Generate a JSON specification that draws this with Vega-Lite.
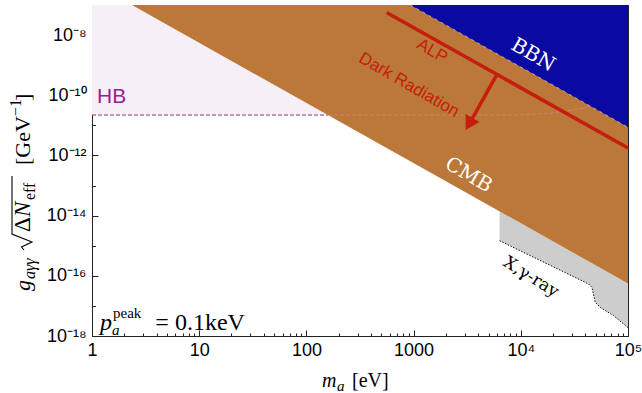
{
  "$schema": "https://vega.github.io/schema/vega-lite/v6.json",
  "width": 536,
  "height": 331,
  "autosize": {"type": "none"},
  "padding": {"left": 92, "top": 5, "right": 14, "bottom": 57},
  "background": "white",
  "config": {
    "view": {"stroke": null},
    "axis": {"grid": false, "domainColor": "#222", "tickColor": "#222", "labelColor": "#000", "labelFont": "Liberation Sans", "labelFontSize": 18, "zindex": 1, "labelFlush": false, "labelOverlap": false, "tickWidth": 1, "domainWidth": 1}
  },
  "resolve": {"axis": {"x": "independent", "y": "independent"}},
  "layer": [
    {
      "data": {"values": [{"x": 1, "y": 2.2e-11, "y2": 1e-7}, {"x": 100000, "y": 2.2e-11, "y2": 1e-7}]},
      "mark": {"type": "area", "color": "#f7eff8"},
      "encoding": {
        "x": {"field": "x", "type": "quantitative", "scale": {"type": "log", "domain": [1, 100000], "nice": false},
          "axis": {"orient": "bottom", "title": null, "values": [1,2,3,4,5,6,7,8,9,10,20,30,40,50,60,70,80,90,100,200,300,400,500,600,700,800,900,1000,2000,3000,4000,5000,6000,7000,8000,9000,10000,20000,30000,40000,50000,60000,70000,80000,90000,100000],
            "labelExpr": "datum.value == 1 ? '1' : datum.value == 10 ? '10' : datum.value == 100 ? '100' : datum.value == 1000 ? '1000' : datum.value == 10000 ? '10⁴' : datum.value == 100000 ? '10⁵' : ''",
            "tickSize": {"condition": {"test": "indexof([1,10,100,1000,10000,100000], datum.value) >= 0", "value": -6}, "value": -3},
            "labelPadding": 11}},
        "y": {"field": "y", "type": "quantitative", "scale": {"type": "log", "domain": [1e-18, 1e-7], "nice": false},
          "axis": {"orient": "left", "title": null, "values": [1e-18,1e-17,1e-16,1e-15,1e-14,1e-13,1e-12,1e-11,1e-10,1e-9,1e-8,1e-7],
            "labelExpr": "datum.value == 1e-8 ? '10⁻⁸' : datum.value == 1e-10 ? '10⁻¹⁰' : datum.value == 1e-12 ? '10⁻¹²' : datum.value == 1e-14 ? '10⁻¹⁴' : datum.value == 1e-16 ? '10⁻¹⁶' : datum.value == 1e-18 ? '10⁻¹⁸' : ''",
            "tickSize": {"condition": {"test": "indexof([1e-18,1e-16,1e-14,1e-12,1e-10,1e-8], datum.value) >= 0", "value": -6}, "value": -3.5},
            "labelPadding": 12}},
        "y2": {"field": "y2"}
      }
    },
    {
      "data": {"values": [{"x": 1, "y": 2.2e-11}, {"x": 159, "y": 2.2e-11}]},
      "mark": {"type": "line", "stroke": "#9c2a94", "strokeWidth": 1, "strokeDash": [4, 2]},
      "encoding": {
        "x": {"field": "x", "type": "quantitative", "scale": {"type": "log", "domain": [1, 100000], "nice": false}, "axis": null},
        "y": {"field": "y", "type": "quantitative", "scale": {"type": "log", "domain": [1e-18, 1e-7], "nice": false}, "axis": null}
      }
    },
    {
      "data": {"values": [
        {"x": 6340, "y": 1.47e-15, "y2": 1.386e-14},
        {"x": 42900, "y": 5.35e-17, "y2": 3.03e-16},
        {"x": 46100, "y": 4.12e-17, "y2": 2.62e-16},
        {"x": 49500, "y": 1.31e-17, "y2": 2.27e-16},
        {"x": 55200, "y": 8.9e-18, "y2": 1.83e-16},
        {"x": 73400, "y": 4.72e-18, "y2": 1.03e-16},
        {"x": 100000, "y": 1.9e-18, "y2": 5.57e-17}
      ]},
      "mark": {"type": "area", "color": "#cdcdcd"},
      "encoding": {
        "x": {"field": "x", "type": "quantitative", "scale": {"type": "log", "domain": [1, 100000], "nice": false}, "axis": null},
        "y": {"field": "y", "type": "quantitative", "scale": {"type": "log", "domain": [1e-18, 1e-7], "nice": false}, "axis": null},
        "y2": {"field": "y2"}
      }
    },
    {
      "data": {"values": [
        {"x": 6340, "y": 1.47e-15},
        {"x": 42900, "y": 5.35e-17},
        {"x": 46100, "y": 4.12e-17},
        {"x": 49500, "y": 1.31e-17},
        {"x": 55200, "y": 8.9e-18},
        {"x": 73400, "y": 4.72e-18},
        {"x": 100000, "y": 1.9e-18}
      ]},
      "mark": {"type": "line", "stroke": "#111", "strokeWidth": 1, "strokeDash": [1.5, 1.5]},
      "encoding": {
        "x": {"field": "x", "type": "quantitative", "scale": {"type": "log", "domain": [1, 100000], "nice": false}, "axis": null},
        "y": {"field": "y", "type": "quantitative", "scale": {"type": "log", "domain": [1e-18, 1e-7], "nice": false}, "axis": null}
      }
    },
    {
      "data": {"values": [{"x": 2.36, "y": 1e-7, "y2": 1e-7}, {"x": 100000, "y": 5.57e-17, "y2": 1e-7}]},
      "mark": {"type": "area", "color": "#bb7839"},
      "encoding": {
        "x": {"field": "x", "type": "quantitative", "scale": {"type": "log", "domain": [1, 100000], "nice": false},
          "axis": {"orient": "top", "title": null, "labels": false, "values": [1,2,3,4,5,6,7,8,9,10,20,30,40,50,60,70,80,90,100,200,300,400,500,600,700,800,900,1000,2000,3000,4000,5000,6000,7000,8000,9000,10000,20000,30000,40000,50000,60000,70000,80000,90000,100000],
            "tickSize": {"condition": {"test": "indexof([1,10,100,1000,10000,100000], datum.value) >= 0", "value": -6}, "value": -3}}},
        "y": {"field": "y", "type": "quantitative", "scale": {"type": "log", "domain": [1e-18, 1e-7], "nice": false},
          "axis": {"orient": "right", "title": null, "labels": false, "values": [1e-18,1e-17,1e-16,1e-15,1e-14,1e-13,1e-12,1e-11,1e-10,1e-9,1e-8,1e-7],
            "tickSize": {"condition": {"test": "indexof([1e-18,1e-16,1e-14,1e-12,1e-10,1e-8], datum.value) >= 0", "value": -6}, "value": -3.5}}},
        "y2": {"field": "y2"}
      }
    },
    {
      "data": {"values": [{"x": 159, "y": 2.2e-11}, {"x": 9300, "y": 2.2e-11}, {"x": 20000, "y": 2.6e-11}, {"x": 36000, "y": 3.6e-11}, {"x": 45000, "y": 4.4e-11}]},
      "mark": {"type": "line", "stroke": "#d48a9c", "strokeWidth": 1, "strokeDash": [4, 2], "opacity": 0.6},
      "encoding": {
        "x": {"field": "x", "type": "quantitative", "scale": {"type": "log", "domain": [1, 100000], "nice": false}, "axis": null},
        "y": {"field": "y", "type": "quantitative", "scale": {"type": "log", "domain": [1e-18, 1e-7], "nice": false}, "axis": null}
      }
    },
    {
      "data": {"values": [{"x": 931, "y": 1e-7, "y2": 1e-7}, {"x": 100000, "y": 8.67e-12, "y2": 1e-7}]},
      "mark": {"type": "area", "color": "#0a0aa2"},
      "encoding": {
        "x": {"field": "x", "type": "quantitative", "scale": {"type": "log", "domain": [1, 100000], "nice": false}, "axis": null},
        "y": {"field": "y", "type": "quantitative", "scale": {"type": "log", "domain": [1e-18, 1e-7], "nice": false}, "axis": null},
        "y2": {"field": "y2"}
      }
    },
    {
      "data": {"values": [{"x": 931, "y": 1e-7}, {"x": 100000, "y": 8.67e-12}]},
      "mark": {"type": "line", "stroke": "white", "strokeWidth": 1, "opacity": 0.5, "strokeDash": [3, 4]},
      "encoding": {
        "x": {"field": "x", "type": "quantitative", "scale": {"type": "log", "domain": [1, 100000], "nice": false}, "axis": null},
        "y": {"field": "y", "type": "quantitative", "scale": {"type": "log", "domain": [1e-18, 1e-7], "nice": false}, "axis": null}
      }
    },
    {
      "data": {"values": [{"x": 560, "y": 5.64e-8}, {"x": 100000, "y": 1.77e-12}]},
      "mark": {"type": "line", "stroke": "#c61e0e", "strokeWidth": 3.5},
      "encoding": {
        "x": {"field": "x", "type": "quantitative", "scale": {"type": "log", "domain": [1, 100000], "nice": false}, "axis": null},
        "y": {"field": "y", "type": "quantitative", "scale": {"type": "log", "domain": [1e-18, 1e-7], "nice": false}, "axis": null}
      }
    },
    {
      "data": {"values": [{"xa": 5998, "ya": 4.92e-10, "xb": 3467, "yb": 1.51e-11}]},
      "mark": {"type": "rule", "stroke": "#c61e0e", "strokeWidth": 3.5},
      "encoding": {
        "x": {"field": "xa", "type": "quantitative", "scale": {"type": "log", "domain": [1, 100000], "nice": false}, "axis": null},
        "y": {"field": "ya", "type": "quantitative", "scale": {"type": "log", "domain": [1e-18, 1e-7], "nice": false}, "axis": null},
        "x2": {"field": "xb"},
        "y2": {"field": "yb"}
      }
    },
    {
      "data": {"values": [{"x": 3294, "y": 1.11e-11}]},
      "mark": {"type": "point", "shape": "triangle-down", "size": 256, "angle": 30, "filled": true, "color": "#c61e0e", "opacity": 1},
      "encoding": {
        "x": {"field": "x", "type": "quantitative", "scale": {"type": "log", "domain": [1, 100000], "nice": false}, "axis": null},
        "y": {"field": "y", "type": "quantitative", "scale": {"type": "log", "domain": [1e-18, 1e-7], "nice": false}, "axis": null}
      }
    },
    {
      "data": {"values": [{"t": "HB", "x": 1.113, "y": 5.53e-11}]},
      "mark": {"type": "text", "font": "Liberation Sans", "fontSize": 21, "color": "#9b2090", "align": "left", "baseline": "alphabetic"},
      "encoding": {
        "x": {"field": "x", "type": "quantitative", "scale": {"type": "log", "domain": [1, 100000], "nice": false}, "axis": null},
        "y": {"field": "y", "type": "quantitative", "scale": {"type": "log", "domain": [1e-18, 1e-7], "nice": false}, "axis": null},
        "text": {"field": "t"}
      }
    },
    {
      "data": {"values": [{"t": "BBN", "x": 13000, "y": 2.18e-9}, {"t": "CMB", "x": 3252, "y": 2.24e-13}]},
      "mark": {"type": "text", "font": "DejaVu Serif", "fontSize": 20, "color": "white", "align": "center", "baseline": "middle", "angle": 30},
      "encoding": {
        "x": {"field": "x", "type": "quantitative", "scale": {"type": "log", "domain": [1, 100000], "nice": false}, "axis": null},
        "y": {"field": "y", "type": "quantitative", "scale": {"type": "log", "domain": [1e-18, 1e-7], "nice": false}, "axis": null},
        "text": {"field": "t"}
      }
    },
    {
      "data": {"values": [{"t": "X,γ-ray", "x": 12450, "y": 9.12e-17}]},
      "mark": {"type": "text", "font": "DejaVu Serif", "fontSize": 17, "color": "black", "align": "center", "baseline": "middle", "angle": 32},
      "encoding": {
        "x": {"field": "x", "type": "quantitative", "scale": {"type": "log", "domain": [1, 100000], "nice": false}, "axis": null},
        "y": {"field": "y", "type": "quantitative", "scale": {"type": "log", "domain": [1e-18, 1e-7], "nice": false}, "axis": null},
        "text": {"field": "t"}
      }
    },
    {
      "data": {"values": [{"t": "ALP", "x": 1486, "y": 2.96e-9}, {"t": "Dark Radiation", "x": 906, "y": 2.19e-10}]},
      "mark": {"type": "text", "font": "Liberation Sans", "fontSize": 17, "color": "#c61e0e", "align": "center", "baseline": "middle", "angle": 30},
      "encoding": {
        "x": {"field": "x", "type": "quantitative", "scale": {"type": "log", "domain": [1, 100000], "nice": false}, "axis": null},
        "y": {"field": "y", "type": "quantitative", "scale": {"type": "log", "domain": [1e-18, 1e-7], "nice": false}, "axis": null},
        "text": {"field": "t"}
      }
    },
    {
      "data": {"values": [{"t": "p", "x": 1.187, "y": 1.58e-18}]},
      "mark": {"type": "text", "font": "Liberation Serif", "fontSize": 24, "fontStyle": "italic", "color": "black", "align": "left", "baseline": "alphabetic"},
      "encoding": {
        "x": {"field": "x", "type": "quantitative", "scale": {"type": "log", "domain": [1, 100000], "nice": false}, "axis": null},
        "y": {"field": "y", "type": "quantitative", "scale": {"type": "log", "domain": [1e-18, 1e-7], "nice": false}, "axis": null},
        "text": {"field": "t"}
      }
    },
    {
      "data": {"values": [{"t": "a", "x": 1.537, "y": 1.078e-18}, {"t": "a", "x": 193.0, "y": 1.486e-20}]},
      "mark": {"type": "text", "font": "Liberation Serif", "fontSize": 15, "fontStyle": "italic", "color": "black", "align": "left", "baseline": "alphabetic"},
      "encoding": {
        "x": {"field": "x", "type": "quantitative", "scale": {"type": "log", "domain": [1, 100000], "nice": false}, "axis": null},
        "y": {"field": "y", "type": "quantitative", "scale": {"type": "log", "domain": [1e-18, 1e-7], "nice": false}, "axis": null},
        "text": {"field": "t"}
      }
    },
    {
      "data": {"values": [{"t": "peak", "x": 1.57, "y": 3.96e-18}]},
      "mark": {"type": "text", "font": "Liberation Serif", "fontSize": 15, "color": "black", "align": "left", "baseline": "alphabetic"},
      "encoding": {
        "x": {"field": "x", "type": "quantitative", "scale": {"type": "log", "domain": [1, 100000], "nice": false}, "axis": null},
        "y": {"field": "y", "type": "quantitative", "scale": {"type": "log", "domain": [1e-18, 1e-7], "nice": false}, "axis": null},
        "text": {"field": "t"}
      }
    },
    {
      "data": {"values": [{"t": "= 0.1keV", "x": 3.9, "y": 1.58e-18}]},
      "mark": {"type": "text", "font": "Liberation Serif", "fontSize": 24, "color": "black", "align": "left", "baseline": "alphabetic"},
      "encoding": {
        "x": {"field": "x", "type": "quantitative", "scale": {"type": "log", "domain": [1, 100000], "nice": false}, "axis": null},
        "y": {"field": "y", "type": "quantitative", "scale": {"type": "log", "domain": [1e-18, 1e-7], "nice": false}, "axis": null},
        "text": {"field": "t"}
      }
    },
    {
      "data": {"values": [{"t": "m", "x": 139.8, "y": 2.02e-20}]},
      "mark": {"type": "text", "font": "Liberation Serif", "fontSize": 20, "fontStyle": "italic", "color": "black", "align": "left", "baseline": "alphabetic"},
      "encoding": {
        "x": {"field": "x", "type": "quantitative", "scale": {"type": "log", "domain": [1, 100000], "nice": false}, "axis": null},
        "y": {"field": "y", "type": "quantitative", "scale": {"type": "log", "domain": [1e-18, 1e-7], "nice": false}, "axis": null},
        "text": {"field": "t"}
      }
    },
    {
      "data": {"values": [{"t": "[eV]", "x": 266.4, "y": 2.02e-20}]},
      "mark": {"type": "text", "font": "Liberation Serif", "fontSize": 20, "color": "black", "align": "left", "baseline": "alphabetic"},
      "encoding": {
        "x": {"field": "x", "type": "quantitative", "scale": {"type": "log", "domain": [1, 100000], "nice": false}, "axis": null},
        "y": {"field": "y", "type": "quantitative", "scale": {"type": "log", "domain": [1e-18, 1e-7], "nice": false}, "axis": null},
        "text": {"field": "t"}
      }
    },
    {
      "data": {"values": [{"t": "g", "x": 0.264, "y": 3.13e-17}]},
      "mark": {"type": "text", "font": "Liberation Serif", "fontSize": 22, "fontStyle": "italic", "color": "black", "align": "left", "baseline": "alphabetic", "angle": 270},
      "encoding": {
        "x": {"field": "x", "type": "quantitative", "scale": {"type": "log", "domain": [1, 100000], "nice": false}, "axis": null},
        "y": {"field": "y", "type": "quantitative", "scale": {"type": "log", "domain": [1e-18, 1e-7], "nice": false}, "axis": null},
        "text": {"field": "t"}
      }
    },
    {
      "data": {"values": [{"t": "N", "x": 0.264, "y": 9.0e-15}]},
      "mark": {"type": "text", "font": "Liberation Serif", "fontSize": 23, "fontStyle": "italic", "color": "black", "align": "left", "baseline": "alphabetic", "angle": 270},
      "encoding": {
        "x": {"field": "x", "type": "quantitative", "scale": {"type": "log", "domain": [1, 100000], "nice": false}, "axis": null},
        "y": {"field": "y", "type": "quantitative", "scale": {"type": "log", "domain": [1e-18, 1e-7], "nice": false}, "axis": null},
        "text": {"field": "t"}
      }
    },
    {
      "data": {"values": [{"t": "Δ", "x": 0.264, "y": 2.86e-15}]},
      "mark": {"type": "text", "font": "Liberation Serif", "fontSize": 23, "color": "black", "align": "left", "baseline": "alphabetic", "angle": 270},
      "encoding": {
        "x": {"field": "x", "type": "quantitative", "scale": {"type": "log", "domain": [1, 100000], "nice": false}, "axis": null},
        "y": {"field": "y", "type": "quantitative", "scale": {"type": "log", "domain": [1e-18, 1e-7], "nice": false}, "axis": null},
        "text": {"field": "t"}
      }
    },
    {
      "data": {"values": [{"t": "aγγ", "x": 0.2939, "y": 7.83e-17}]},
      "mark": {"type": "text", "font": "Liberation Serif", "fontSize": 16, "fontStyle": "italic", "color": "black", "align": "left", "baseline": "alphabetic", "angle": 270},
      "encoding": {
        "x": {"field": "x", "type": "quantitative", "scale": {"type": "log", "domain": [1, 100000], "nice": false}, "axis": null},
        "y": {"field": "y", "type": "quantitative", "scale": {"type": "log", "domain": [1e-18, 1e-7], "nice": false}, "axis": null},
        "text": {"field": "t"}
      }
    },
    {
      "data": {"values": [{"t": "[GeV", "x": 0.264, "y": 4.82e-13}, {"t": "]", "x": 0.264, "y": 6.45e-11}]},
      "mark": {"type": "text", "font": "Liberation Serif", "fontSize": 22, "color": "black", "align": "left", "baseline": "alphabetic", "angle": 270},
      "encoding": {
        "x": {"field": "x", "type": "quantitative", "scale": {"type": "log", "domain": [1, 100000], "nice": false}, "axis": null},
        "y": {"field": "y", "type": "quantitative", "scale": {"type": "log", "domain": [1e-18, 1e-7], "nice": false}, "axis": null},
        "text": {"field": "t"}
      }
    },
    {
      "data": {"values": [{"t": "eff", "x": 0.2939, "y": 3.3e-14}, {"t": "−1", "x": 0.2177, "y": 2.05e-11}]},
      "mark": {"type": "text", "font": "Liberation Serif", "fontSize": 16, "color": "black", "align": "left", "baseline": "alphabetic", "angle": 270},
      "encoding": {
        "x": {"field": "x", "type": "quantitative", "scale": {"type": "log", "domain": [1, 100000], "nice": false}, "axis": null},
        "y": {"field": "y", "type": "quantitative", "scale": {"type": "log", "domain": [1e-18, 1e-7], "nice": false}, "axis": null},
        "text": {"field": "t"}
      }
    },
    {
      "data": {"values": [
        {"i": 1, "x": 0.2321, "y": 7.21e-16},
        {"i": 2, "x": 0.22, "y": 9.06e-16},
        {"i": 3, "x": 0.2757, "y": 1.33e-15},
        {"i": 4, "x": 0.1794, "y": 2.45e-15},
        {"i": 5, "x": 0.1794, "y": 2.07e-13}
      ]},
      "mark": {"type": "line", "stroke": "black", "strokeWidth": 1.1},
      "encoding": {
        "x": {"field": "x", "type": "quantitative", "scale": {"type": "log", "domain": [1, 100000], "nice": false}, "axis": null},
        "y": {"field": "y", "type": "quantitative", "scale": {"type": "log", "domain": [1e-18, 1e-7], "nice": false}, "axis": null},
        "order": {"field": "i", "type": "quantitative"}
      }
    }
  ]
}
